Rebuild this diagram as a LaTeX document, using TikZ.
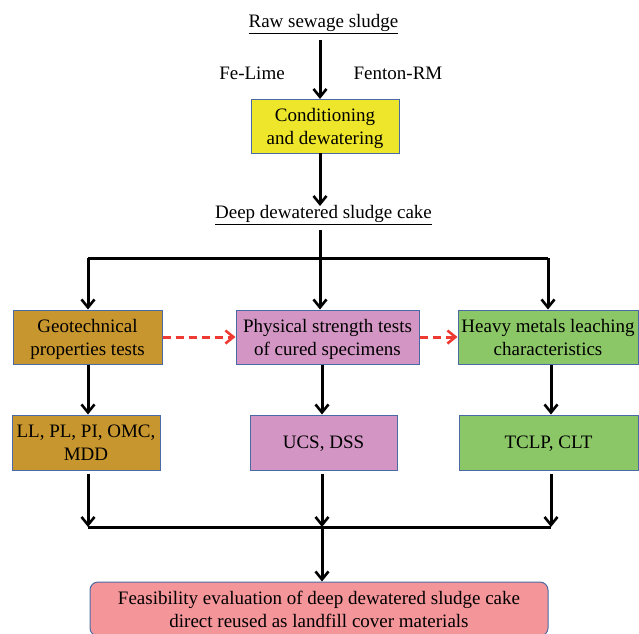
\documentclass[tikz,border=0pt]{standalone}
\usepackage{fontspec}
\setmainfont{Liberation Serif}
\usetikzlibrary{arrows.meta}
\definecolor{bord}{HTML}{4A6AA5}
\definecolor{cyel}{HTML}{EEE62A}
\definecolor{cbrn}{HTML}{C8962E}
\definecolor{cpnk}{HTML}{D396C4}
\definecolor{cgrn}{HTML}{8BC766}
\definecolor{cfin}{HTML}{F4959A}
\definecolor{cred}{HTML}{EE3A33}
\begin{document}
\begin{tikzpicture}[x=1pt,y=-1pt,
  txt/.style={font=\fontsize{19}{23}\selectfont, align=center, inner sep=0pt},
  box/.style={txt, draw=bord, line width=1pt, minimum height=54pt, text depth=0pt},
  arr/.style={line width=3pt, -{Straight Barb[length=8pt,width=13pt,line width=2.6pt]}},
  ln/.style={line width=3pt},
  darr/.style={cred, line width=3pt, dash pattern=on 8pt off 5pt, -{Straight Barb[length=8pt,width=13pt,line width=2.6pt]}}]
\useasboundingbox (0,0) rectangle (639,633);
% top
\node[txt] (raw) at (323.5,24) {\underline{Raw sewage sludge}};
\node[txt] (fel) at (252,73) {Fe-Lime};
\node[txt] (fen) at (398,73) {Fenton-RM};
\node[box, fill=cyel, minimum width=148pt] (cond) at (325,126) {Conditioning\\and dewatering};
\node[txt] (cake) at (323.5,215) {\underline{Deep dewatered sludge cake}};
% row 1
\node[box, fill=cbrn, minimum width=149pt] (geo) at (87.5,337) {Geotechnical\\properties tests};
\node[box, fill=cpnk, minimum width=183pt] (phys) at (327.5,337) {Physical strength tests\\of cured specimens};
\node[box, fill=cgrn, minimum width=180pt] (heavy) at (548,337) {Heavy metals leaching\\characteristics};
% row 2
\node[box, fill=cbrn, minimum width=148pt, minimum height=55pt] (ll) at (86,442.5) {LL, PL, PI, OMC,\\MDD};
\node[box, fill=cpnk, minimum width=147pt, minimum height=55pt] (ucs) at (323.5,442.5) {UCS, DSS};
\node[box, fill=cgrn, minimum width=179pt, minimum height=55pt] (tclp) at (548.5,442.5) {TCLP, CLT};
% final
\node[box, fill=cfin, minimum width=458pt, minimum height=54pt, rounded corners=8pt] (fin) at (319,609) {Feasibility evaluation of deep dewatered sludge cake\\direct reused as landfill cover materials};
% coordinates
\coordinate (a1) at (320,40);
\coordinate (a2) at (320,99);
\coordinate (b1) at (320,153);
\coordinate (b2) at (320,206);
\coordinate (c0) at (320,230);
\coordinate (cL) at (88,258);
\coordinate (cR) at (548,258);
\coordinate (cM) at (320,258);
\coordinate (dL) at (88,527);
\coordinate (dM) at (322,527);
\coordinate (dR) at (551,527);
\coordinate (eL) at (88,474);
\coordinate (eM) at (322,474);
\coordinate (eR) at (551,474);
% connectors
\draw[arr] (a1) -- (a2);
\draw[arr] (b1) -- (b2);
\draw[arr] (c0) -- (cM |- phys.north);
\draw[ln] (cL) -- (cR);
\draw[arr] (cL) -- (cL |- geo.north);
\draw[arr] (cR) -- (cR |- heavy.north);
\draw[darr] (geo.east) -- (phys.west);
\draw[darr] (phys.east) -- (heavy.west);
\draw[arr] (geo.south -| eL) -- (ll.north -| eL);
\draw[arr] (phys.south -| eM) -- (ucs.north -| eM);
\draw[arr] (heavy.south -| eR) -- (tclp.north -| eR);
\draw[ln] (dL) -- (dR);
\draw[arr] (eL) -- (dL);
\draw[arr] (eM) -- (dM);
\draw[arr] (eR) -- (dR);
\draw[arr] (dM) -- (fin.north -| dM);
\end{tikzpicture}
\end{document}
